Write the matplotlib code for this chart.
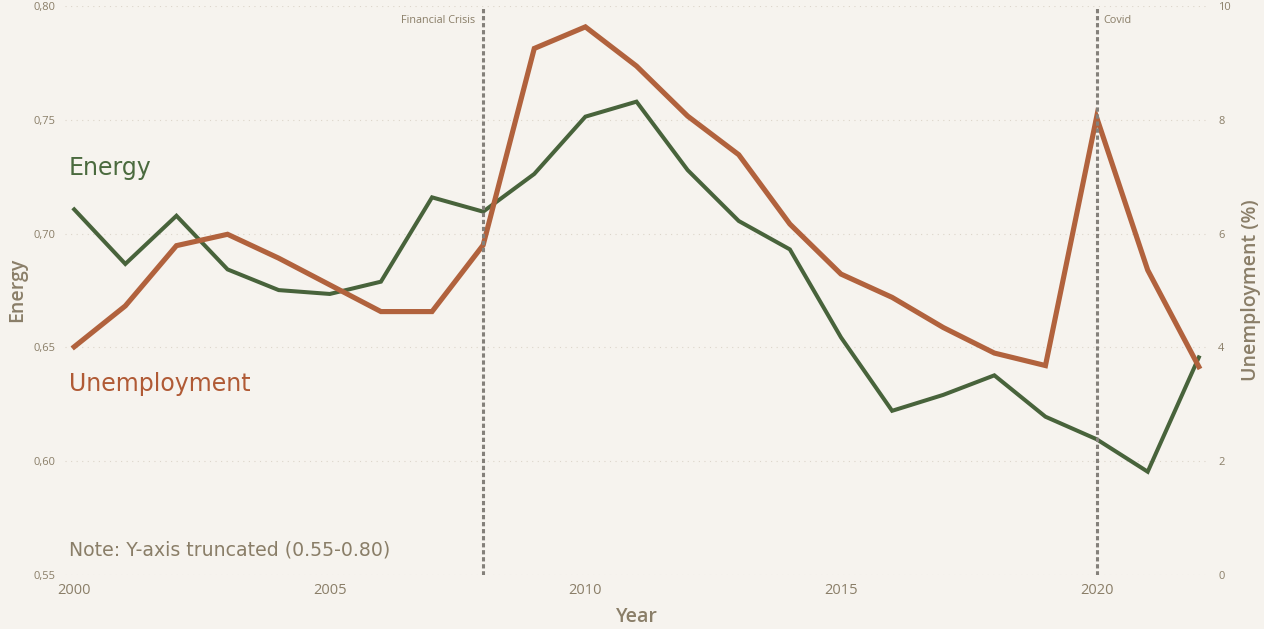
import matplotlib
matplotlib.use('Agg')
import matplotlib.pyplot as plt
import matplotlib.ticker as mticker

# ---- data ----
years = list(range(2000, 2023))
energy = [0.7107, 0.6867, 0.7079, 0.6843, 0.6752, 0.6735, 0.6789, 0.7160,
          0.7097, 0.7263, 0.7515, 0.7581, 0.7280, 0.7056, 0.6931, 0.6544,
          0.6221, 0.6291, 0.6377, 0.6195, 0.6096, 0.5953, 0.6456]
unemployment = [4.01, 4.73, 5.79, 5.99, 5.57, 5.10, 4.63, 4.63,
                5.80, 9.26, 9.64, 8.95, 8.07, 7.39, 6.17, 5.29,
                4.88, 4.35, 3.90, 3.68, 8.05, 5.36, 3.66]
energy_ticks = [0.55, 0.60, 0.65, 0.70, 0.75, 0.80]
unemp_ticks = [0, 2, 4, 6, 8, 10]
year_ticks = [2000, 2005, 2010, 2015, 2020]
event_years = [2008, 2020]
event_labels = ['Financial Crisis', 'Covid']

# ---- style ----
BG = '#f6f3ee'
TXT = '#8a7e68'
GREEN = '#48633b'
ORANGE = '#b1623d'
GRID = '#dcd5ca'
VLINE = '#84807a'
TICKFONT = 'Open Sans'

fig = plt.figure(figsize=(12.64, 6.29), dpi=100, facecolor=BG)
ax = fig.add_axes([65 / 1264, 1 - 574.7 / 629, 1142 / 1264, 568.3 / 629])
ax.set_facecolor(BG)
ax2 = ax.twinx()
ax2.patch.set_visible(False)

ax.plot(years, energy, color=GREEN, lw=2.9, solid_joinstyle='miter', zorder=3)
ax2.plot(years, unemployment, color=ORANGE, lw=3.7, solid_joinstyle='miter', zorder=3)

ax.set_xlim(1999.82, 2022.16)
ax.set_ylim(energy_ticks[0], energy_ticks[-1])
ax2.set_ylim(unemp_ticks[0], unemp_ticks[-1])

ax.set_xticks(year_ticks)
ax.set_yticks(energy_ticks)
ax2.set_yticks(unemp_ticks)
ax.yaxis.set_major_formatter(mticker.FuncFormatter(lambda v, p: f"{v:.2f}".replace('.', ',')))
ax2.yaxis.set_major_formatter(mticker.FuncFormatter(lambda v, p: f"{v:g}"))

for a in (ax, ax2):
    for s in a.spines.values():
        s.set_visible(False)
ax.tick_params(axis='x', length=0, pad=6, labelsize=10.5, labelcolor=TXT)
ax.tick_params(axis='y', length=0, pad=7, labelsize=8, labelcolor=TXT)
ax2.tick_params(axis='y', length=0, pad=8, labelsize=8, labelcolor=TXT)
for lab in ax.get_xticklabels() + ax.get_yticklabels() + ax2.get_yticklabels():
    lab.set_fontfamily(TICKFONT)

ax.grid(axis='y', color=GRID, lw=0.8, linestyle=(0, (1, 4)))
ax.set_axisbelow(True)

# event lines
for yr, lab in zip(event_years, event_labels):
    ax2.axvline(yr, color=VLINE, lw=2.2, linestyle=(0, (1.4, 0.9)), zorder=5)
    if lab == 'Covid':
        ax2.annotate(lab, xy=(yr, 1), xycoords=('data', 'axes fraction'),
                     xytext=(5, -10.5), textcoords='offset points', ha='left', va='center',
                     fontsize=7.8, color=TXT, family=TICKFONT)
    else:
        ax2.annotate(lab, xy=(yr, 1), xycoords=('data', 'axes fraction'),
                     xytext=(-6, -10.5), textcoords='offset points', ha='right', va='center',
                     fontsize=7.8, color=TXT, family=TICKFONT)

# axis labels
fig.text(637 / 1264, 1 - 622 / 629, 'Year', ha='center', va='baseline',
         fontsize=14, color=TXT, family=TICKFONT, fontweight='semibold')
fig.text(17 / 1264, 1 - 290 / 629, 'Energy', ha='center', va='center', rotation=90,
         fontsize=14, color=TXT, family=TICKFONT, fontweight='semibold')
fig.text(1251 / 1264, 1 - 290 / 629, 'Unemployment (%)', ha='center', va='center', rotation=90,
         fontsize=14, color=TXT, family=TICKFONT, fontweight='semibold')

# in-plot labels
fig.text(69 / 1264, 1 - 175 / 629, 'Energy', ha='left', va='baseline',
         fontsize=17, color='#4a6a3e', family='DejaVu Sans')
fig.text(69 / 1264, 1 - 391 / 629, 'Unemployment', ha='left', va='baseline',
         fontsize=17, color='#b05a35', family='DejaVu Sans')
fig.text(69 / 1264, 1 - 555 / 629, 'Note: Y-axis truncated (0.55-0.80)', ha='left', va='baseline',
         fontsize=13.6, color=TXT, family='DejaVu Sans')

fig.savefig('out.png', dpi=100, facecolor=BG)
